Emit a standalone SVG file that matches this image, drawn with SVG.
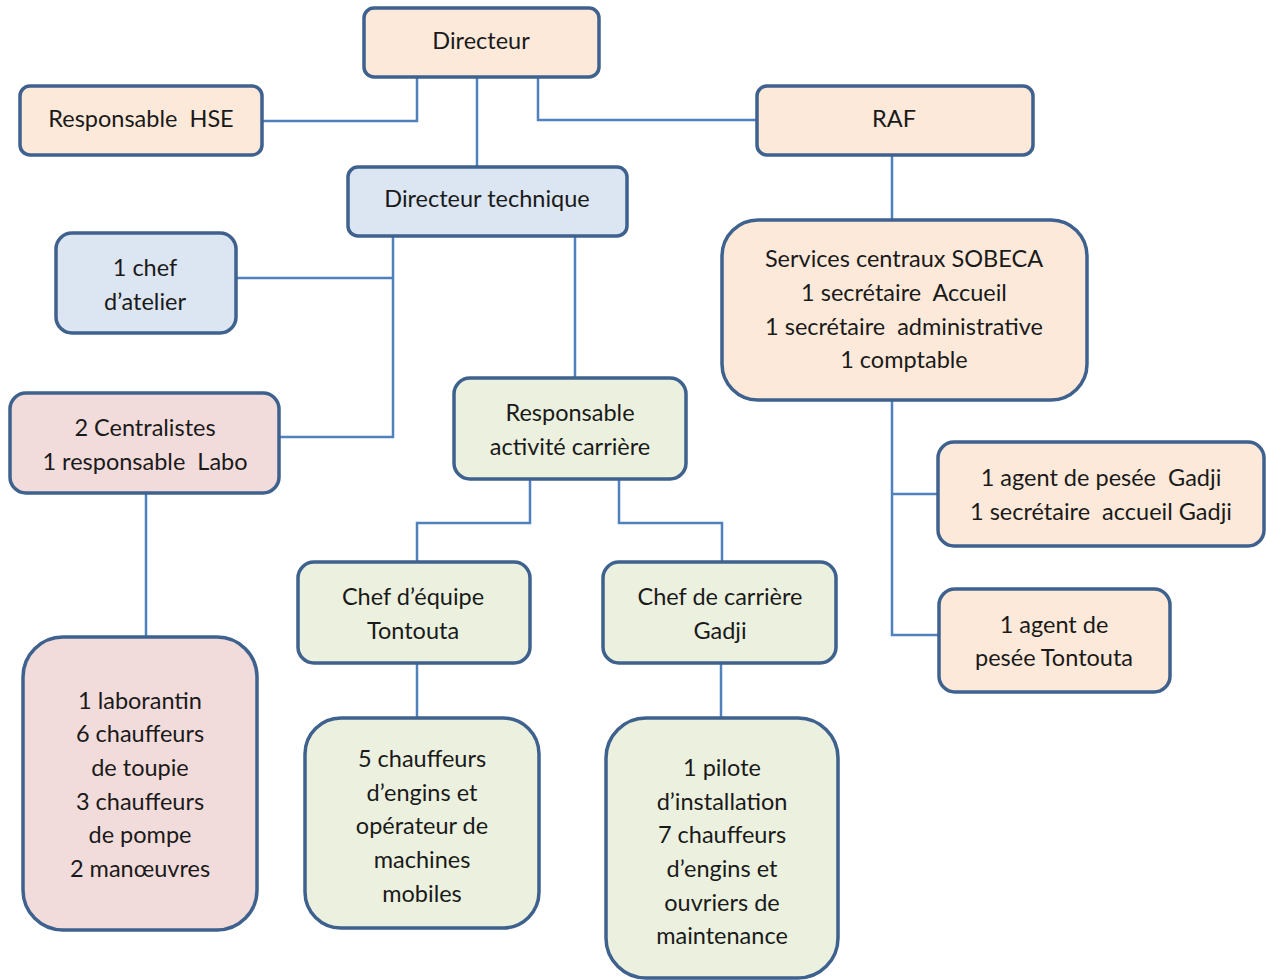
<svg xmlns="http://www.w3.org/2000/svg" width="1266" height="980" viewBox="0 0 1266 980">
<style>
.n{stroke:#3E618E;stroke-width:3.5}
.peach{fill:#FDE9D9}
.blue{fill:#DCE6F2}
.pink{fill:#F2DCDB}
.green{fill:#EBF1DE}
.c{fill:none;stroke:#4F81BD;stroke-width:2.5}
text{font-family:Lato,"Liberation Sans",sans-serif;font-size:23.5px;fill:#1a1a1a;text-anchor:middle;white-space:pre}
</style>
<rect width="1266" height="980" fill="#fff"/>
<g id="connectors">
<polyline class="c" points="417,77 417,121 262,121"/>
<polyline class="c" points="477,77 477,167"/>
<polyline class="c" points="538,77 538,120 757,120"/>
<polyline class="c" points="892,155 892,220"/>
<polyline class="c" points="393,236 393,437 279,437"/>
<polyline class="c" points="393,278 236,278"/>
<polyline class="c" points="575,236 575,378"/>
<polyline class="c" points="530,479 530,523 417,523 417,562"/>
<polyline class="c" points="619,479 619,523 722,523 722,562"/>
<polyline class="c" points="146,493 146,637"/>
<polyline class="c" points="892,400 892,635 939,635"/>
<polyline class="c" points="892,494 938,494"/>
<polyline class="c" points="417,663 417,718"/>
<polyline class="c" points="721,663 721,718"/>
</g>
<g id="directeur"><rect class="n peach" x="364" y="8" width="235" height="69" rx="10"/><text x="481" y="49">Directeur</text></g>
<g id="hse"><rect class="n peach" x="20" y="86" width="242" height="69" rx="10"/><text x="141" y="127">Responsable  HSE</text></g>
<g id="raf"><rect class="n peach" x="757" y="86" width="276" height="69" rx="10"/><text x="894" y="127">RAF</text></g>
<g id="dirtech"><rect class="n blue" x="348" y="167" width="279" height="69" rx="10"/><text x="487" y="207">Directeur technique</text></g>
<g id="chefatelier"><rect class="n blue" x="56" y="233" width="180" height="100" rx="16"/><text x="145" y="276">1 chef</text><text x="145" y="310">d’atelier</text></g>
<g id="centralistes"><rect class="n pink" x="10" y="393" width="269" height="100" rx="16"/><text x="145" y="436">2 Centralistes</text><text x="145" y="470">1 responsable  Labo</text></g>
<g id="services"><rect class="n peach" x="722" y="220" width="365" height="180" rx="36"/><text x="904" y="267">Services centraux SOBECA</text><text x="904" y="301">1 secrétaire  Accueil</text><text x="904" y="335">1 secrétaire  administrative</text><text x="904" y="368">1 comptable</text></g>
<g id="respcarriere"><rect class="n green" x="454" y="378" width="232" height="101" rx="16"/><text x="570" y="421">Responsable</text><text x="570" y="455">activité carrière</text></g>
<g id="agentgadji"><rect class="n peach" x="938" y="442" width="326" height="104" rx="16"/><text x="1101" y="486">1 agent de pesée  Gadji</text><text x="1101" y="520">1 secrétaire  accueil Gadji</text></g>
<g id="agenttontouta"><rect class="n peach" x="939" y="589" width="231" height="103" rx="16"/><text x="1054" y="633">1 agent de</text><text x="1054" y="666">pesée Tontouta</text></g>
<g id="chefequipe"><rect class="n green" x="298" y="562" width="232" height="101" rx="16"/><text x="413" y="605">Chef d’équipe</text><text x="413" y="639">Tontouta</text></g>
<g id="chefcarriere"><rect class="n green" x="603" y="562" width="233" height="101" rx="16"/><text x="720" y="605">Chef de carrière</text><text x="720" y="639">Gadji</text></g>
<g id="laborantin"><rect class="n pink" x="23" y="637" width="234" height="293" rx="40"/><text x="140" y="709">1 laborantin</text><text x="140" y="742">6 chauffeurs</text><text x="140" y="776">de toupie</text><text x="140" y="810">3 chauffeurs</text><text x="140" y="843">de pompe</text><text x="140" y="877">2 manœuvres</text></g>
<g id="chauffeurs5"><rect class="n green" x="305" y="718" width="234" height="210" rx="36"/><text x="422" y="767">5 chauffeurs</text><text x="422" y="801">d’engins et</text><text x="422" y="834">opérateur de</text><text x="422" y="868">machines</text><text x="422" y="902">mobiles</text></g>
<g id="pilote"><rect class="n green" x="606" y="718" width="232" height="260" rx="40"/><text x="722" y="776">1 pilote</text><text x="722" y="810">d’installation</text><text x="722" y="843">7 chauffeurs</text><text x="722" y="877">d’engins et</text><text x="722" y="911">ouvriers de</text><text x="722" y="944">maintenance</text></g>
</svg>
